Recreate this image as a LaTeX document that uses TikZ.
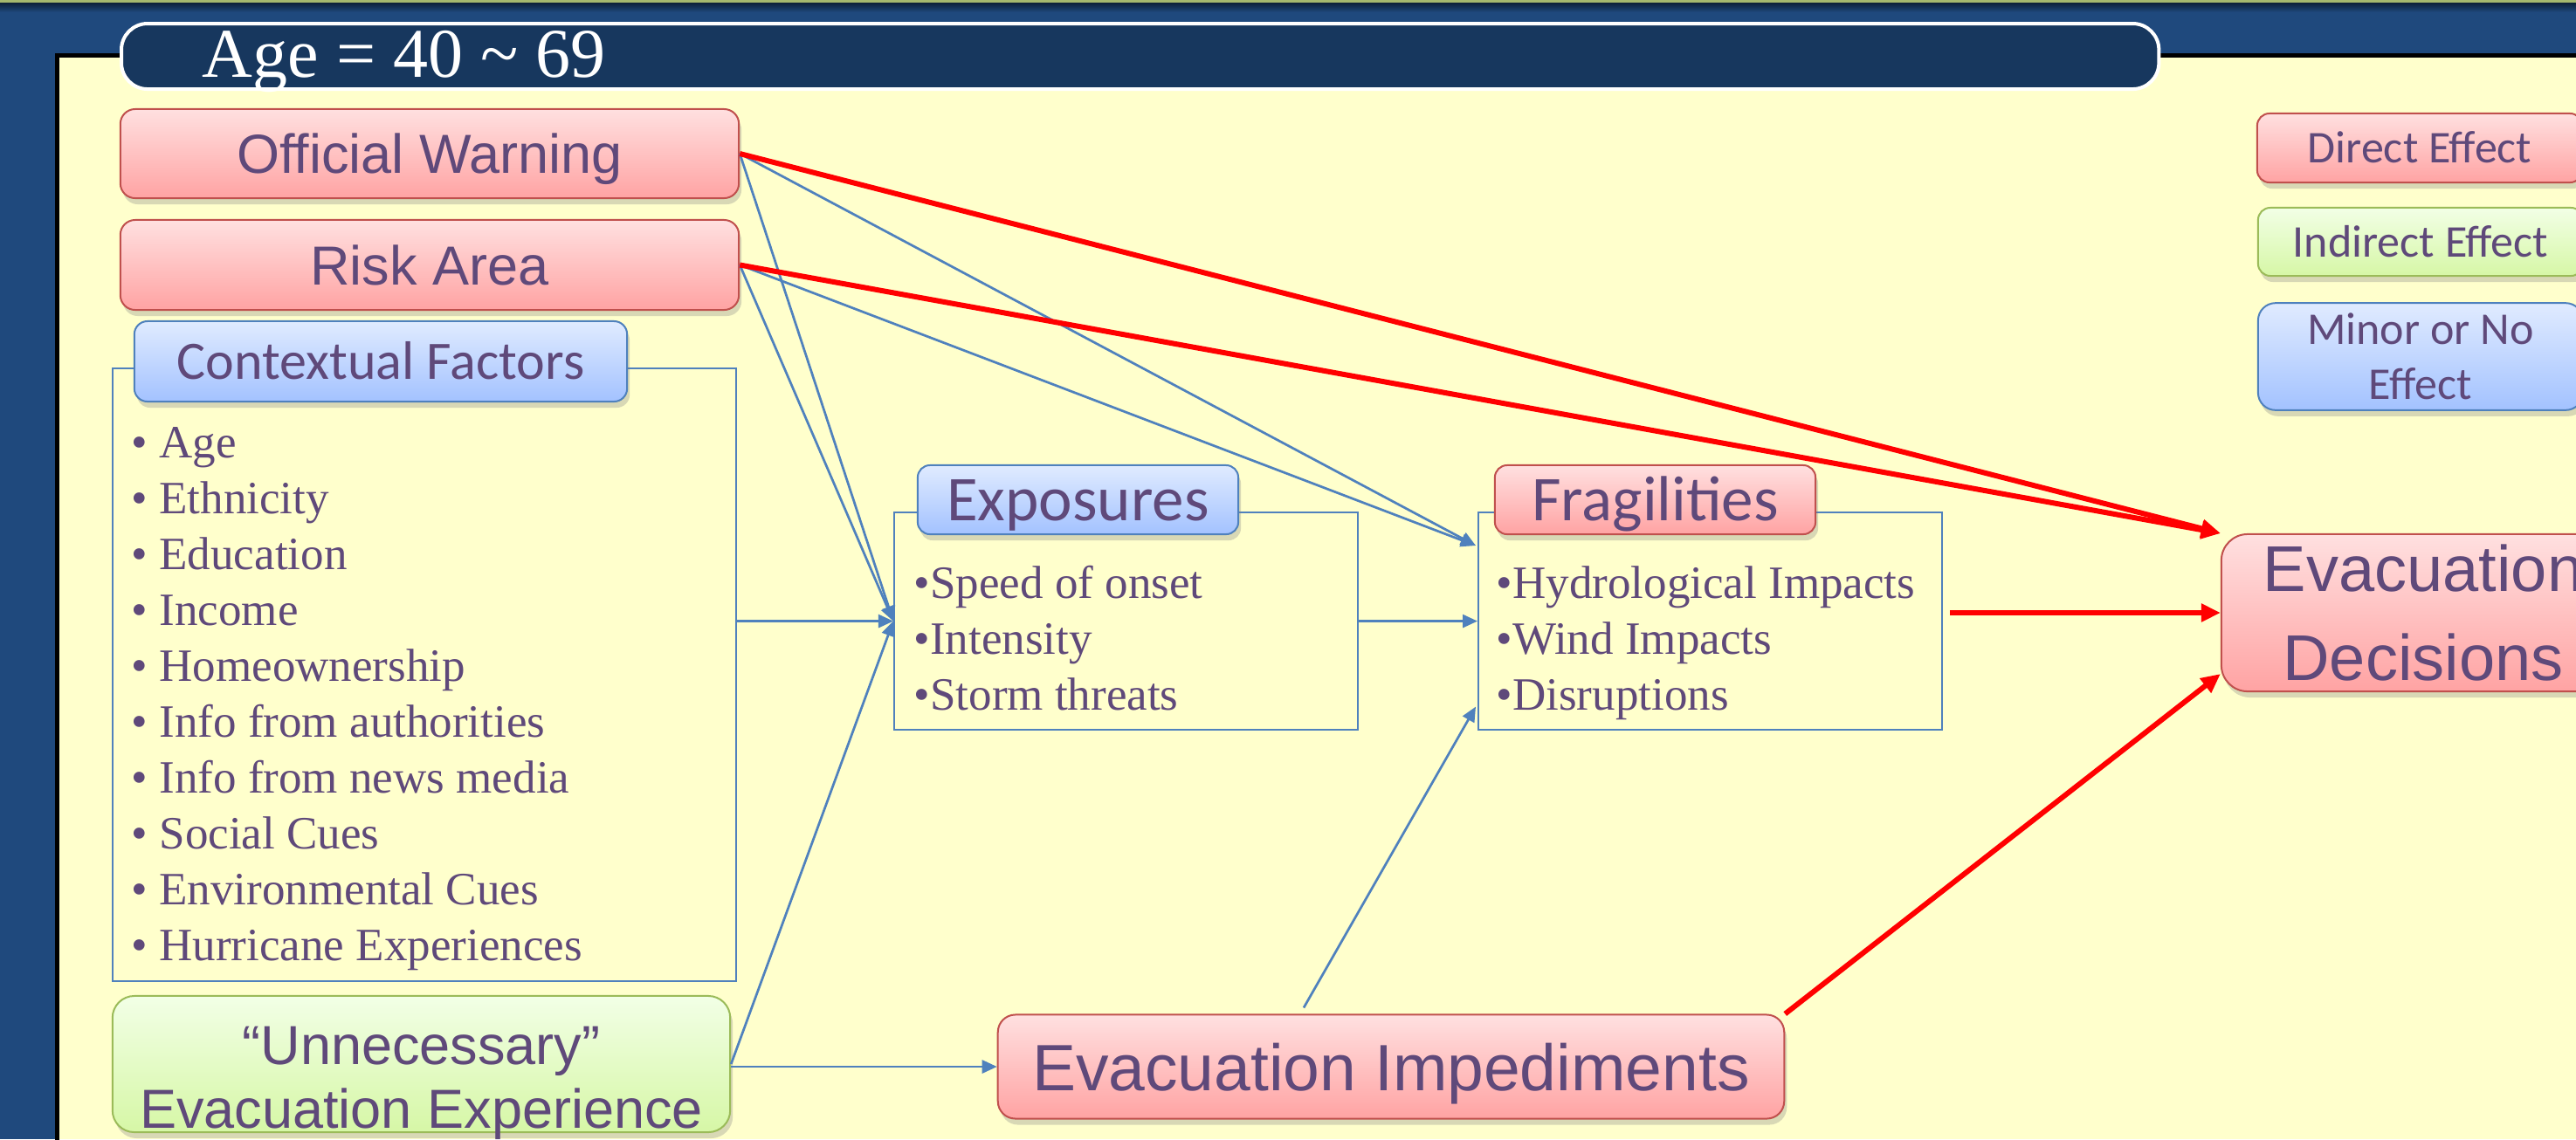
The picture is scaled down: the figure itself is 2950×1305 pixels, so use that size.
\documentclass[tikz,border=0pt]{standalone}
\usepackage{fontspec}
\usetikzlibrary{arrows.meta,shadows,calc}
\newfontfamily\arialf{Liberation Sans}
\newfontfamily\calibrif{Carlito}
\newfontfamily\timesf{Liberation Serif}
\definecolor{bgblue}{HTML}{1F497D}
\definecolor{navy}{HTML}{17375E}
\definecolor{cream}{HTML}{FFFFCC}
\definecolor{txt}{HTML}{5F497A}
\definecolor{redline}{HTML}{C0504D}
\definecolor{redtop}{HTML}{FFE0E0}
\definecolor{redbot}{HTML}{FFA3A3}
\definecolor{grnline}{HTML}{9BBB59}
\definecolor{grntop}{HTML}{F2FFE6}
\definecolor{grnbot}{HTML}{D6F7A6}
\definecolor{blueline}{HTML}{4F81BD}
\definecolor{bluetop}{HTML}{E0EBFF}
\definecolor{bluebot}{HTML}{A3C2FF}
\definecolor{topstrip}{HTML}{A6B96E}
\tikzset{
  shbox/.style={line width=0.02cm, text=txt, drop shadow={shadow xshift=0.03cm, shadow yshift=-0.07cm, opacity=0.3}},
  redbox/.style={shbox, draw=redline, top color=redtop, bottom color=redbot},
  grnbox/.style={shbox, draw=grnline, top color=grntop, bottom color=grnbot},
  bluebox/.style={shbox, draw=blueline, top color=bluetop, bottom color=bluebot},
  listbox/.style={draw=blueline, line width=0.02cm, inner sep=0pt, anchor=north west},
  listtext/.style={text=txt, inner sep=0pt, anchor=base west, font={\timesf\fontsize{15.08pt}{18.21pt}\selectfont}},
  arialbig/.style={font={\arialf\fontsize{17.93pt}{20.77pt}\selectfont}},
  minor/.style={draw=blueline, line width=0.027cm, -{Triangle[length=0.17cm,width=0.15cm]}},
  direct/.style={draw=red, line width=0.06cm, -{Triangle[length=0.22cm,width=0.2cm]}},
  legtext/.style={font={\calibrif\fontsize{14.8pt}{17.93pt}\selectfont}, align=center},
}
\begin{document}
\begin{tikzpicture}[x=0.01cm,y=-0.01cm]
\path[use as bounding box] (0,0) rectangle (2950,1305);
\clip (0,0) rectangle (2950,1305);
% background
\fill[bgblue] (0,0) rectangle (2950,1305);
\fill[topstrip] (0,0) rectangle (2950,3);
\shade[top color=black!55!bgblue, bottom color=bgblue] (0,3) rectangle (2950,14);
\fill[cream] (66,63) rectangle (2950,1305);
\draw[black, line width=0.055cm] (65.5,1310) -- (65.5,63.5) -- (2955,63.5);
% title
\node[draw=white, line width=0.04cm, fill=navy, rounded corners=0.3cm, minimum width=23.32cm, minimum height=0.75cm, inner sep=0pt, anchor=north west] (titlebox) at (137,25) {};
\node[text=white, inner sep=0pt, anchor=base west, font={\timesf\fontsize{22.76pt}{26pt}\selectfont}] (title) at (231,88) {Age = 40 \textasciitilde{} 69};
% left boxes
\node[redbox, arialbig, rounded corners=0.17cm, minimum width=7.08cm, minimum height=1.02cm, text height=0.45cm, text depth=0pt] (ow) at (492,176) {Official Warning};
\node[redbox, arialbig, rounded corners=0.17cm, minimum width=7.08cm, minimum height=1.03cm, text height=0.45cm, text depth=0pt] (ra) at (492,303.5) {Risk Area};
% list boxes
\node[listbox, minimum width=7.14cm, minimum height=7.02cm] (cflist) at (128,421) {};
\node[listbox, minimum width=5.31cm, minimum height=2.49cm] (exlist) at (1023,586) {};
\node[listbox, minimum width=5.31cm, minimum height=2.49cm] (frlist) at (1692,586) {};
% labels
\node[bluebox, rounded corners=0.15cm, minimum width=5.64cm, minimum height=0.92cm, text height=0.40cm, text depth=0pt, font={\calibrif\fontsize{17.64pt}{20pt}\selectfont}] (cf) at (436,414) {Contextual Factors};
\node[bluebox, rounded corners=0.14cm, minimum width=3.67cm, minimum height=0.79cm, text height=0.47cm, text depth=0pt, font={\calibrif\fontsize{20.77pt}{24pt}\selectfont}] (ex) at (1234.5,572.5) {Exposures};
\node[redbox, rounded corners=0.14cm, minimum width=3.67cm, minimum height=0.79cm, text height=0.47cm, text depth=0pt, font={\calibrif\fontsize{20.77pt}{24pt}\selectfont}] (fr) at (1895.5,572.5) {Fragilities};
% list texts
\foreach \t [count=\i from 0] in {Age,Ethnicity,Education,Income,Homeownership,Info from authorities,Info from news media,Social Cues,Environmental Cues,Hurricane Experiences}
  \node[listtext] (cf\i) at (150,524+64*\i) {• \t};
\foreach \t [count=\i from 0] in {Speed of onset,Intensity,Storm threats}
  \node[listtext] (ex\i) at (1046,685+64*\i) {•\t};
\foreach \t [count=\i from 0] in {Hydrological Impacts,Wind Impacts,Disruptions}
  \node[listtext] (fr\i) at (1713,685+64*\i) {•\t};
% unnecessary
\node[grnbox, rounded corners=0.25cm, minimum width=7.07cm, minimum height=1.56cm] (un) at (482.5,1219) {};
\node[text=txt, arialbig, align=center, inner sep=0pt] (unt) at (482.5,1241) {“Unnecessary”\\Evacuation Experience};
% impediments
\node[redbox, rounded corners=0.2cm, minimum width=9.0cm, minimum height=1.19cm, text height=0.54cm, text depth=0pt, font={\arialf\fontsize{21.34pt}{24pt}\selectfont}] (ei) at (1593,1222) {Evacuation Impediments};
% decisions
\node[redbox, rounded corners=0.3cm, minimum width=4.62cm, minimum height=1.80cm, align=center, font={\arialf\fontsize{21.06pt}{29.02pt}\selectfont}] (ed) at (2775,702) {Evacuation\\Decisions};
% legend
\node[redbox, legtext, rounded corners=0.14cm, minimum width=3.72cm, minimum height=0.79cm, text height=0.34cm, text depth=0pt] (lgd) at (2771,169.5) {Direct Effect};
\node[grnbox, legtext, rounded corners=0.14cm, minimum width=3.72cm, minimum height=0.78cm, text height=0.34cm, text depth=0pt] (lgi) at (2772,277) {Indirect Effect};
\node[bluebox, legtext, rounded corners=0.2cm, minimum width=3.72cm, minimum height=1.19cm] (lgm) at (2772,408.5) {Minor or No\\Effect};
% connectors
\coordinate (frin) at ($(frlist.north west)+(-2,39)$);
\coordinate (frout) at ([xshift=0.08cm]frlist.east);
\draw[minor] (ow.east) -- (exlist.west);
\draw[minor] (ra.east) -- (exlist.west);
\draw[minor] (cflist.east |- exlist.west) -- (exlist.west);
\draw[minor] (un.east) -- (exlist.west);
\draw[minor] (ow.east) -- (frin);
\draw[minor] (ra.east) -- (frin);
\draw[minor] (exlist.east) -- (frlist.west);
\draw[minor] (un.east |- ei.west) -- (ei.west);
\draw[minor] ($(ei.north)+(-100,-7)$) -- ($(frlist.west)+(-2,98)$);
\draw[direct] (ow.east) -- (ed.north west);
\draw[direct] (ra.east) -- (ed.north west);
\draw[direct] (frout |- ed.west) -- (ed.west);
\draw[direct] (ei.north east) -- ($(ed.south west)+(0,-21)$);
\end{tikzpicture}
\end{document}
